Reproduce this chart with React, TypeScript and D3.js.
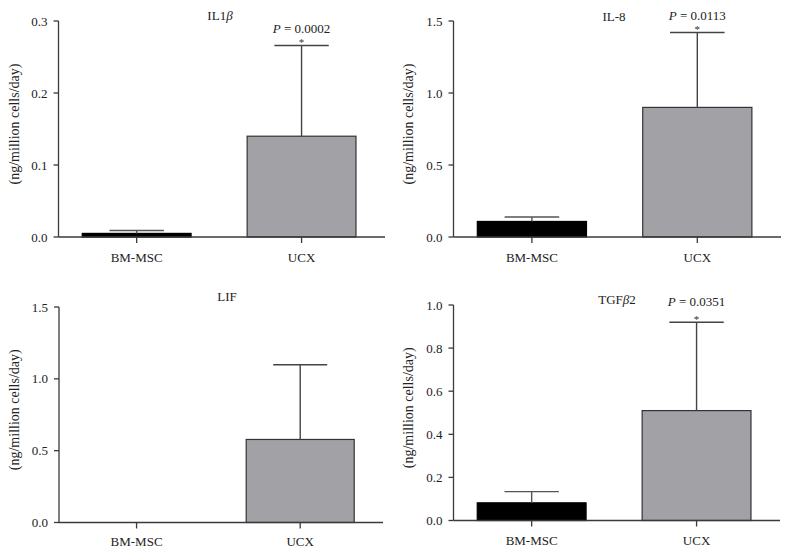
import React from "react";
import * as d3 from "d3";

const groups = ["BM-MSC", "UCX"];
const il1bMean = [0.005, 0.14];
const il1bUpper = [0.009, 0.266];
const il8Mean = [0.108, 0.9];
const il8Upper = [0.139, 1.42];
const lifMean = [0, 0.578];
const lifUpper = [null, 1.098];
const tgfMean = [0.082, 0.51];
const tgfUpper = [0.134, 0.92];
const yMaxes = [0.3, 1.5, 1.5, 1.0];
const yTicksList = [
  [0, 0.1, 0.2, 0.3],
  [0, 0.5, 1.0, 1.5],
  [0, 0.5, 1.0, 1.5],
  [0, 0.2, 0.4, 0.6, 0.8, 1.0],
];
const pValues = ["0.0002", "0.0113", null, "0.0351"];
const yLabel = "(ng/million cells/day)";

const FONT = "'Liberation Serif', 'Times New Roman', serif";
const AXIS = "#3a3a3a";
const GREY = "#a2a1a6";

type Layout = {
  x0: number; x1: number; yTop: number; yBottom: number;
  titleX: number; titleY: number; pOffset: number; xLabelY: number; yLabelX: number;
};

const layouts: Layout[] = [
  { x0: 58.5, x1: 385, yTop: 21, yBottom: 237, titleX: 220, titleY: 19.5, pOffset: 12.8, xLabelY: 262, yLabelX: 19 },
  { x0: 453.5, x1: 781, yTop: 21, yBottom: 237, titleX: 614, titleY: 21, pOffset: 12.8, xLabelY: 262, yLabelX: 413 },
  { x0: 59, x1: 383, yTop: 307, yBottom: 522.5, titleX: 227, titleY: 301, pOffset: 12.8, xLabelY: 546, yLabelX: 19 },
  { x0: 453.5, x1: 780, yTop: 305, yBottom: 520.5, titleX: 617, titleY: 303.5, pOffset: 16, xLabelY: 545, yLabelX: 413 },
];

const means = [il1bMean, il8Mean, lifMean, tgfMean];
const uppers = [il1bUpper, il8Upper, lifUpper, tgfUpper];

function Title({ idx, x, y }: { idx: number; x: number; y: number }) {
  const common = { x, y, textAnchor: "middle" as const, fontFamily: FONT, fontSize: 13, fill: "#222" };
  if (idx === 0)
    return (
      <text {...common}>
        IL1<tspan fontStyle="italic">β</tspan>
      </text>
    );
  if (idx === 1) return <text {...common}>IL-8</text>;
  if (idx === 2) return <text {...common}>LIF</text>;
  return (
    <text {...common}>
      TGF<tspan fontStyle="italic">β</tspan>2
    </text>
  );
}

function Panel({ idx }: { idx: number }) {
  const L = layouts[idx];
  const y = d3.scaleLinear().domain([0, yMaxes[idx]]).range([L.yBottom, L.yTop]);
  const x = d3
    .scaleBand<string>()
    .domain(groups)
    .range([L.x0, L.x1])
    .paddingInner(0.34)
    .paddingOuter(0.16)
    .align(0.45);
  const bw = x.bandwidth();
  const ticks = yTicksList[idx];
  const fmt = d3.format(".1f");
  const m = means[idx];
  const u = uppers[idx];
  const p = pValues[idx];
  const ucxX = (x("UCX") as number) + bw / 2;
  const ucxTop = u[1] != null ? y(u[1] as number) : 0;
  return (
    <g>
      <Title idx={idx} x={L.titleX} y={L.titleY} />
      {groups.map((g, i) => {
        const bx = x(g) as number;
        const v = m[i];
        if (v <= 0) return null;
        const top = y(v);
        return (
          <rect
            key={g}
            x={bx}
            y={top}
            width={bw}
            height={L.yBottom - top}
            fill={i === 0 ? "#000" : GREY}
            stroke={i === 0 ? "#000" : "#333"}
            strokeWidth={1.2}
          />
        );
      })}
      {groups.map((g, i) => {
        const up = u[i];
        if (up == null) return null;
        const cx = (x(g) as number) + bw / 2;
        const ty = y(up);
        return (
          <g key={"e" + g} stroke={i === 0 ? "#555" : "#444"} strokeWidth={1.4}>
            <line x1={cx} x2={cx} y1={y(m[i])} y2={ty} />
            <line x1={cx - bw / 4} x2={cx + bw / 4} y1={ty} y2={ty} />
          </g>
        );
      })}
      <line x1={L.x0} x2={L.x0} y1={L.yTop} y2={L.yBottom} stroke={AXIS} strokeWidth={1.3} />
      {ticks.map((t) => (
        <g key={t}>
          <line x1={L.x0 - 5} x2={L.x0} y1={y(t)} y2={y(t)} stroke={AXIS} strokeWidth={1.3} />
          <text
            x={L.x0 - 11}
            y={y(t) + 4.5}
            textAnchor="end"
            fontFamily={FONT}
            fontSize={13}
            fill="#222"
          >
            {fmt(t)}
          </text>
        </g>
      ))}
      <line x1={L.x0} x2={L.x1} y1={L.yBottom} y2={L.yBottom} stroke={AXIS} strokeWidth={1.3} />
      {groups.map((g) => {
        const cx = (x(g) as number) + bw / 2;
        return (
          <g key={"x" + g}>
            <line x1={cx} x2={cx} y1={L.yBottom} y2={L.yBottom + 6} stroke={AXIS} strokeWidth={1.3} />
            <text x={cx} y={L.xLabelY} textAnchor="middle" fontFamily={FONT} fontSize={13} fill="#222">
              {g}
            </text>
          </g>
        );
      })}
      <text
        transform={`translate(${L.yLabelX},${(L.yTop + L.yBottom) / 2 - 5}) rotate(-90)`}
        textAnchor="middle"
        fontFamily={FONT}
        fontSize={14}
        fill="#222"
      >
        {yLabel}
      </text>
      {p && (
        <g>
          <text x={ucxX} y={ucxTop - L.pOffset} textAnchor="middle" fontFamily={FONT} fontSize={13} fill="#222">
            <tspan fontStyle="italic">P</tspan> = {p}
          </text>
          <text x={ucxX} y={ucxTop + 0.5} textAnchor="middle" fontFamily={FONT} fontSize={11} fill="#333">
            *
          </text>
        </g>
      )}
    </g>
  );
}

export default function App() {
  return (
    <svg
      width={788}
      height={551}
      viewBox="0 0 788 551"
      style={{ position: "absolute", left: 0, top: 0, background: "#fff" }}
    >
      <rect width={788} height={551} fill="#fff" />
      {[0, 1, 2, 3].map((i) => (
        <Panel key={i} idx={i} />
      ))}
    </svg>
  );
}
